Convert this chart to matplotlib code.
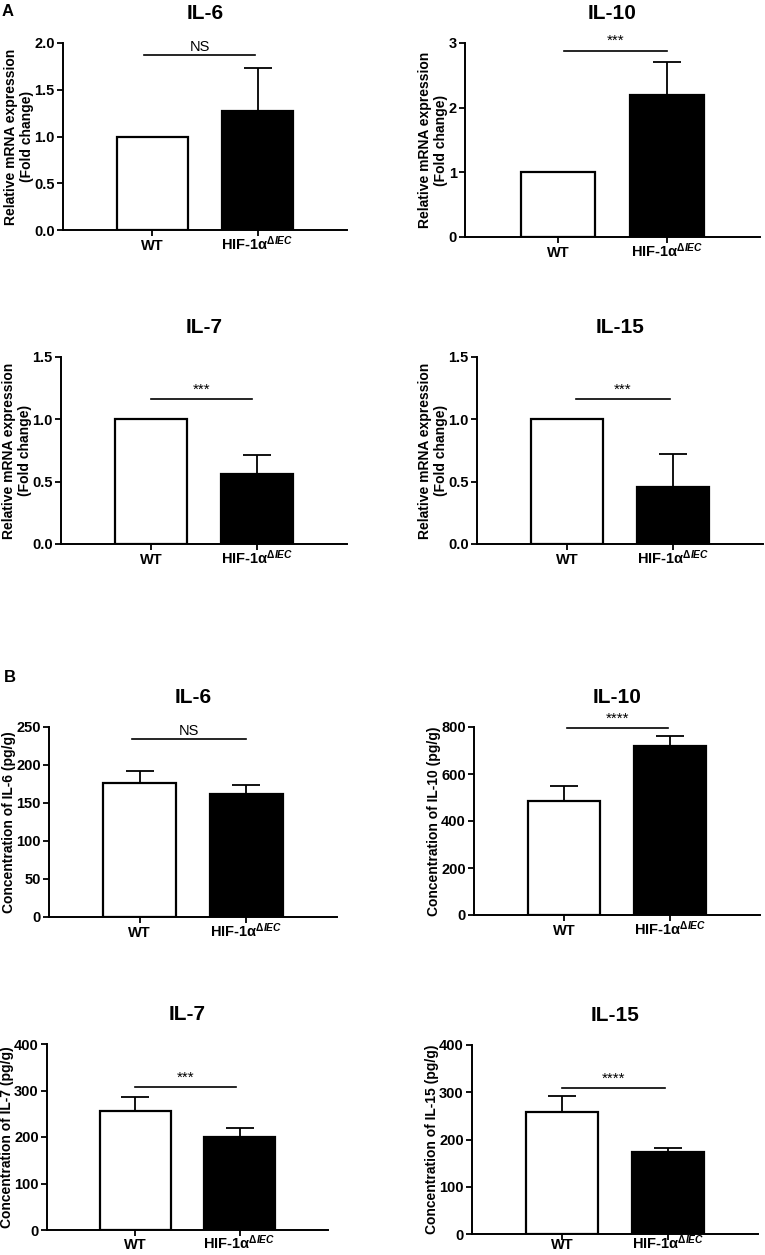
import matplotlib
matplotlib.use('Agg')
import matplotlib.pyplot as plt

# Fig: IL cytokines, WT vs HIF-1a dIEC. A = qPCR fold change, B = ELISA.

plt.rcParams['font.family'] = ['Liberation Sans', 'DejaVu Sans']
plt.rcParams['font.weight'] = 'bold'
plt.rcParams['mathtext.fontset'] = 'custom'
plt.rcParams['mathtext.rm'] = 'Liberation Sans'
plt.rcParams['mathtext.it'] = 'Liberation Sans:italic'
plt.rcParams['mathtext.bf'] = 'Liberation Sans:bold'

groups = ['WT', 'HIF-1α$^{\\mathit{ΔIEC}}$']

titles = ['IL-6', 'IL-10', 'IL-7', 'IL-15', 'IL-6', 'IL-10', 'IL-7', 'IL-15']
ylabels = ['Relative mRNA expression\n(Fold change)'] * 4 + [
    'Concentration of IL-6 (pg/g)', 'Concentration of IL-10 (pg/g)',
    'Concentration of IL-7 (pg/g)', 'Concentration of IL-15 (pg/g)']

wt_mean = [1.0, 1.0, 1.0, 1.0, 176, 485, 255, 259]
wt_err = [0, 0, 0, 0, 15.5, 65, 31, 33]
ko_mean = [1.27, 2.2, 0.56, 0.46, 162, 720, 201, 174]
ko_err = [0.465, 0.5, 0.15, 0.26, 11.5, 40, 19, 9]

sig_text = ['NS', '***', '***', '***', 'NS', '****', '***', '****']
sig_y = [1.87, 2.88, 1.16, 1.16, 234, 794, 307, 308]

y_max = [2.0, 3, 1.5, 1.5, 250, 800, 400, 400]
y_step = [0.5, 1, 0.5, 0.5, 50, 200, 100, 100]
y_fmt = ['%.1f', '%d', '%.1f', '%.1f', '%d', '%d', '%d', '%d']

# axes boxes in pixels: left, top, right, bottom
boxes = [(63, 43, 347, 230), (465, 43, 760, 237),
         (61, 357, 347, 544), (477, 357, 763, 544),
         (49, 727, 337, 917), (474, 727, 760, 915),
         (47, 1044, 328, 1230), (472, 1045, 758, 1234)]
sig_x = [(0.92, 1.98), (1.06, 2.0), (1.0, 1.95), (1.08, 1.97),
         (0.93, 2.0), (1.03, 1.98), (1.0, 1.97), (1.0, 1.97)]
# distance tick-end -> label baseline (points)
xlab_pad = [10.5, 10.5, 10.5, 10.5, 10.5, 10.5, 10.0, 7.0]

W, H = 765, 1255
fig = plt.figure(figsize=(W / 100, H / 100), dpi=100)

for i in range(8):
    l, t, r, b = boxes[i]
    ax = fig.add_axes([l / W, 1 - b / H, (r - l) / W, (b - t) / H])
    xs = [1, 2]
    ax.bar(xs, [wt_mean[i], ko_mean[i]], width=0.68, color=['white', 'black'],
           edgecolor='black', linewidth=1.6, zorder=3)
    ax.errorbar(xs, [wt_mean[i], ko_mean[i]],
                yerr=[[0, 0], [wt_err[i], ko_err[i]]],
                fmt='none', ecolor='black', elinewidth=1.3, capsize=10,
                capthick=1.3, zorder=2)
    x0, x1 = sig_x[i]
    ax.plot([x0, x1], [sig_y[i], sig_y[i]], color='black', lw=1.2,
            clip_on=False)
    if sig_text[i] == 'NS':
        ax.annotate('NS', ((x0 + x1) / 2, sig_y[i]), xytext=(0, 0.5),
                    textcoords='offset points', ha='center', va='bottom',
                    fontsize=10.5, fontweight='normal', annotation_clip=False)
    else:
        ax.annotate(sig_text[i], ((x0 + x1) / 2, sig_y[i]), xytext=(0, 2),
                    textcoords='offset points', ha='center', va='bottom',
                    fontsize=11, fontweight='normal', annotation_clip=False)

    ax.set_xlim(0.15, 2.85)
    ax.set_ylim(0, y_max[i])
    n = int(round(y_max[i] / y_step[i]))
    ticks = [k * y_step[i] for k in range(n + 1)]
    ax.set_yticks(ticks)
    ax.set_yticklabels([y_fmt[i] % v for v in ticks])
    ax.set_xticks(xs)
    ax.set_xticklabels(groups, va='baseline')
    ax.tick_params(axis='both', labelsize=10.5, width=1.3, length=4, pad=2)
    ax.tick_params(axis='x', pad=xlab_pad[i])
    for s in ['top', 'right']:
        ax.spines[s].set_visible(False)
    for s in ['left', 'bottom']:
        ax.spines[s].set_linewidth(1.4)
    ax.set_title(titles[i], fontsize=15, fontweight='bold', pad=17)
    ax.set_ylabel(ylabels[i], fontsize=10, fontweight='bold', labelpad=0)

fig.text(2 / W, 1 - 4 / H, 'A', fontsize=12, fontweight='bold', va='top')
fig.text(4 / W, 1 - 670 / H, 'B', fontsize=12, fontweight='bold', va='top')

fig.savefig('out.png', dpi=100)
